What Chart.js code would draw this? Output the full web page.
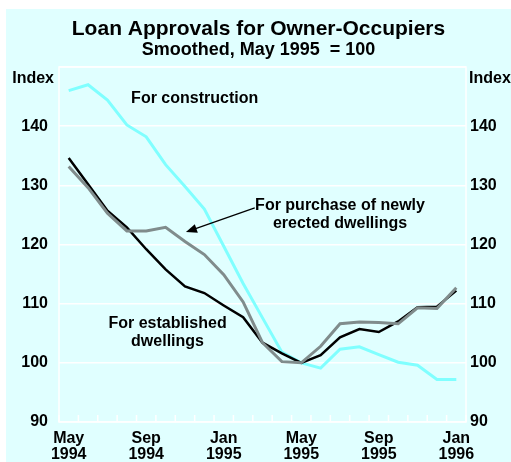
<!DOCTYPE html>
<html>
<head>
<meta charset="utf-8">
<script src="https://cdn.jsdelivr.net/npm/chart.js@4"></script>
<style>
  body { margin: 0; background: #ffffff; }
  #wrap { position: absolute; left: 6px; top: 9px; width: 505px; height: 453px; background: #e0ffff; }
</style>
</head>
<body>
<div id="wrap"><canvas id="loans"></canvas></div>
<script>
const months = ['May 1994', 'Jun 1994', 'Jul 1994', 'Aug 1994', 'Sep 1994', 'Oct 1994', 'Nov 1994',
  'Dec 1994', 'Jan 1995', 'Feb 1995', 'Mar 1995', 'Apr 1995', 'May 1995', 'Jun 1995', 'Jul 1995',
  'Aug 1995', 'Sep 1995', 'Oct 1995', 'Nov 1995', 'Dec 1995', 'Jan 1996'];

const established = [134.6, 130.2, 125.7, 122.9, 119.2, 115.8, 112.9, 111.8, 109.7, 107.7, 103.4,
  101.6, 100.0, 101.3, 104.3, 105.7, 105.2, 107.0, 109.4, 109.5, 112.2];
const newlyErected = [133.2, 129.6, 125.3, 122.3, 122.3, 122.9, 120.5, 118.3, 114.9, 110.3, 103.4,
  100.2, 100.0, 102.8, 106.6, 106.9, 106.8, 106.6, 109.3, 109.2, 112.7];
const construction = [146.0, 147.0, 144.4, 140.2, 138.2, 133.5, 129.8, 126.0, 119.7, 113.4, 107.6,
  101.8, 100.0, 99.1, 102.3, 102.7, 101.4, 100.1, 99.6, 97.2, 97.2];

const yMin = 90;
const yMax = 150;
const yStep = 10;

// annotations: text, month index, index value
const notes = [
  { lines: ['For construction'], x: 6.5, y: 144.6 },
  { lines: ['For purchase of newly', 'erected dwellings'], x: 14.0, y: 126.6 },
  { lines: ['For established', 'dwellings'], x: 5.1, y: 106.6 },
];
const arrow = { from: [9.6, 126.2], to: [6.05, 122.1] };

const FONT = 'Arial, "Liberation Sans", sans-serif';

const extras = {
  id: 'extras',
  beforeDatasetsDraw(chart) {
    const { ctx, chartArea: a, scales } = chart;
    const x = scales.x;
    ctx.save();
    ctx.strokeStyle = '#ffffff';
    ctx.lineWidth = 1.5;
    ctx.strokeRect(a.left, a.top, a.right - a.left, a.bottom - a.top);
    // small ticks between months, pointing up from the bottom
    ctx.beginPath();
    for (let k = 0; k <= months.length; k++) {
      const px = x.getPixelForValue(k - 0.5);
      ctx.moveTo(px, a.bottom);
      ctx.lineTo(px, a.bottom - 7);
    }
    ctx.stroke();
    ctx.restore();
  },
  afterDatasetsDraw(chart) {
    const { ctx, chartArea: a, scales } = chart;
    const x = scales.x, y = scales.y;
    ctx.save();
    ctx.fillStyle = '#000000';
    ctx.font = 'bold 16px ' + FONT;
    ctx.textBaseline = 'middle';
    ctx.textAlign = 'right';
    ctx.fillText('Index', a.left - 5, a.top + 12);
    ctx.textAlign = 'left';
    ctx.fillText('Index', a.right + 3, a.top + 12);

    ctx.textAlign = 'center';
    notes.forEach(n => {
      const px = x.getPixelForValue(n.x);
      const py = y.getPixelForValue(n.y);
      n.lines.forEach((t, i) => ctx.fillText(t, px, py + i * 18));
    });

    // arrow
    const x1 = x.getPixelForValue(arrow.from[0]), y1 = y.getPixelForValue(arrow.from[1]);
    const x2 = x.getPixelForValue(arrow.to[0]), y2 = y.getPixelForValue(arrow.to[1]);
    const ang = Math.atan2(y2 - y1, x2 - x1);
    ctx.strokeStyle = '#000000';
    ctx.lineWidth = 1.3;
    ctx.beginPath();
    ctx.moveTo(x1, y1);
    ctx.lineTo(x2 - 8 * Math.cos(ang), y2 - 8 * Math.sin(ang));
    ctx.stroke();
    ctx.beginPath();
    ctx.moveTo(x2, y2);
    ctx.lineTo(x2 - 11 * Math.cos(ang) + 4.5 * Math.sin(ang), y2 - 11 * Math.sin(ang) - 4.5 * Math.cos(ang));
    ctx.lineTo(x2 - 11 * Math.cos(ang) - 4.5 * Math.sin(ang), y2 - 11 * Math.sin(ang) + 4.5 * Math.cos(ang));
    ctx.closePath();
    ctx.fill();
    ctx.restore();
  }
};

const yTicks = {
  color: '#000000',
  font: { family: FONT, size: 16, weight: 'bold' },
  stepSize: yStep,
  callback: v => (v === yMax ? '' : v),
};

new Chart('loans', {
  type: 'line',
  data: {
    labels: months,
    datasets: [
      { label: 'For purchase of newly erected dwellings', data: newlyErected, borderColor: '#808c8c', borderWidth: 3, order: 0 },
      { label: 'For established dwellings', data: established, borderColor: '#000000', borderWidth: 2.5, order: 1 },
      { label: 'For construction', data: construction, borderColor: '#80ffff', borderWidth: 3, order: 2 },
    ],
  },
  options: {
    responsive: true,
    maintainAspectRatio: false,
    animation: false,
    events: [],
    elements: { point: { radius: 0 }, line: { tension: 0 } },
    layout: { padding: 0 },
    plugins: {
      legend: { display: false },
      tooltip: { enabled: false },
      title: {
        display: true,
        text: 'Loan Approvals for Owner-Occupiers',
        color: '#000000',
        font: { family: FONT, size: 21, weight: 'bold', lineHeight: 1.0 },
        padding: { top: 10, bottom: 0 },
      },
      subtitle: {
        display: true,
        text: 'Smoothed, May 1995  = 100',
        color: '#000000',
        font: { family: FONT, size: 18, weight: 'bold', lineHeight: 1.0 },
        padding: { top: 1, bottom: 8 },
      },
    },
    scales: {
      x: {
        type: 'category',
        offset: true,
        grid: { display: false },
        border: { display: false },
        ticks: {
          autoSkip: false,
          maxRotation: 0,
          padding: 1,
          color: '#000000',
          font: { family: FONT, size: 16, weight: 'bold', lineHeight: 1.0 },
          callback: (v, i) => (i % 4 === 0 ? months[i].split(' ') : ''),
        },
        afterFit: s => { s.height = 40; },
      },
      y: {
        position: 'left',
        min: yMin,
        max: yMax,
        grid: { color: '#ffffff', lineWidth: 1.5, drawTicks: false },
        border: { display: false },
        ticks: Object.assign({ padding: 11 }, yTicks),
        afterFit: s => { s.width = 53; },
      },
      y2: {
        position: 'right',
        min: yMin,
        max: yMax,
        grid: { display: false, drawTicks: false },
        border: { display: false },
        ticks: Object.assign({ padding: 4 }, yTicks),
        afterFit: s => { s.width = 45; },
      },
    },
  },
  plugins: [extras],
});
</script>
</body>
</html>
